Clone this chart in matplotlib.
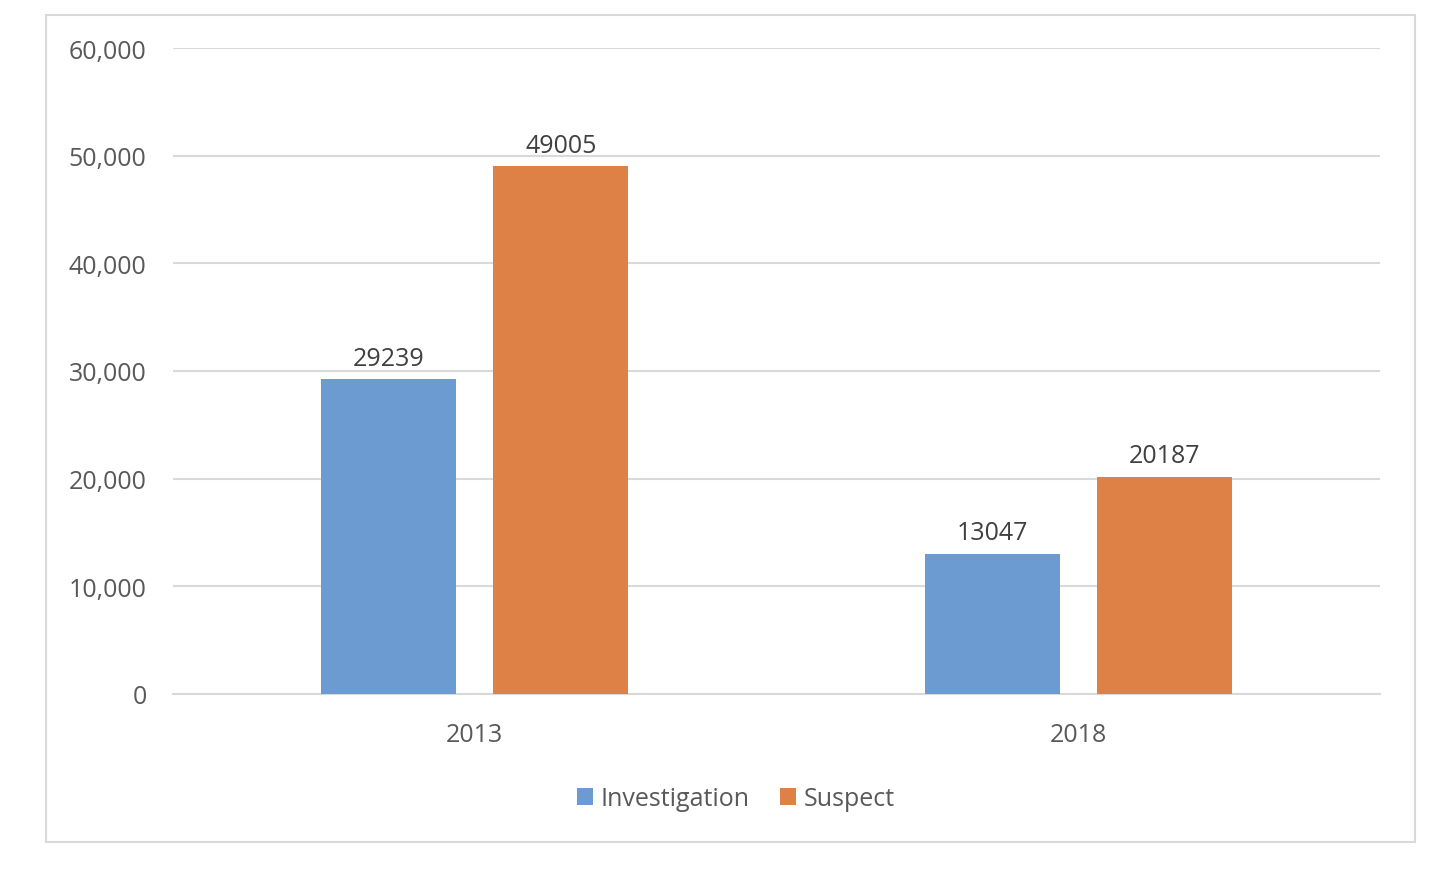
import matplotlib.pyplot as plt
import matplotlib.patches as patches
import numpy as np

# data
years = ['2013', '2018']
investigation = [29239, 13047]
suspect = [49005, 20187]
yticks = [0, 10000, 20000, 30000, 40000, 50000, 60000]

plt.rcParams['font.family'] = ['Open Sans', 'DejaVu Sans']

W, H = 1454, 870
fig = plt.figure(figsize=(W / 100, H / 100), dpi=100)

# outer chart border
fig.patches.append(patches.Rectangle((46 / W, 1 - 843 / H), (1415 - 46) / W, (843 - 16) / H,
                                     transform=fig.transFigure, fill=False,
                                     edgecolor='#d9d9d9', linewidth=1.5))

ax = fig.add_axes([173 / W, 1 - 695 / H, (1380 - 173) / W, (695 - 49) / H])

x = np.arange(len(years))
bw = 0.224
off = 0.1425
c_inv = '#6B9BD1'
c_sus = '#DD8146'
b1 = ax.bar(x - off, investigation, bw, color=c_inv, label='Investigation', zorder=3)
b2 = ax.bar(x + off, suspect, bw, color=c_sus, label='Suspect', zorder=3)

for bars, vals in [(b1, investigation), (b2, suspect)]:
    for rect, v in zip(bars, vals):
        ax.annotate(str(v), (rect.get_x() + rect.get_width() / 2, v),
                    xytext=(0, 6), textcoords='offset points',
                    ha='center', va='bottom', fontsize=18, color='#404040')

ax.set_xlim(-0.5, 1.5)
ax.set_ylim(0, 60000)
ax.set_yticks(yticks)
ax.set_yticklabels([f'{t:,}' for t in yticks])
ax.set_xticks(x)
ax.set_xticklabels(years)
ax.tick_params(axis='y', length=0, pad=19, labelsize=18, labelcolor='#595959')
ax.tick_params(axis='x', length=0, pad=20, labelsize=18, labelcolor='#595959')
ax.grid(axis='y', color='#d9d9d9', linewidth=1.5, zorder=0)
for s in ['top', 'right', 'left']:
    ax.spines[s].set_visible(False)
ax.spines['bottom'].set_color('#d9d9d9')
ax.spines['bottom'].set_linewidth(1.5)

fig.legend(handles=[b1, b2], loc='center', bbox_to_anchor=(736 / W, 1 - 800 / H),
           ncol=2, frameon=False, fontsize=18, labelcolor='#595959',
           handlelength=0.65, handleheight=0.65, handletextpad=0.3, columnspacing=1.2)

fig.savefig('out.png', dpi=100, facecolor='white')
